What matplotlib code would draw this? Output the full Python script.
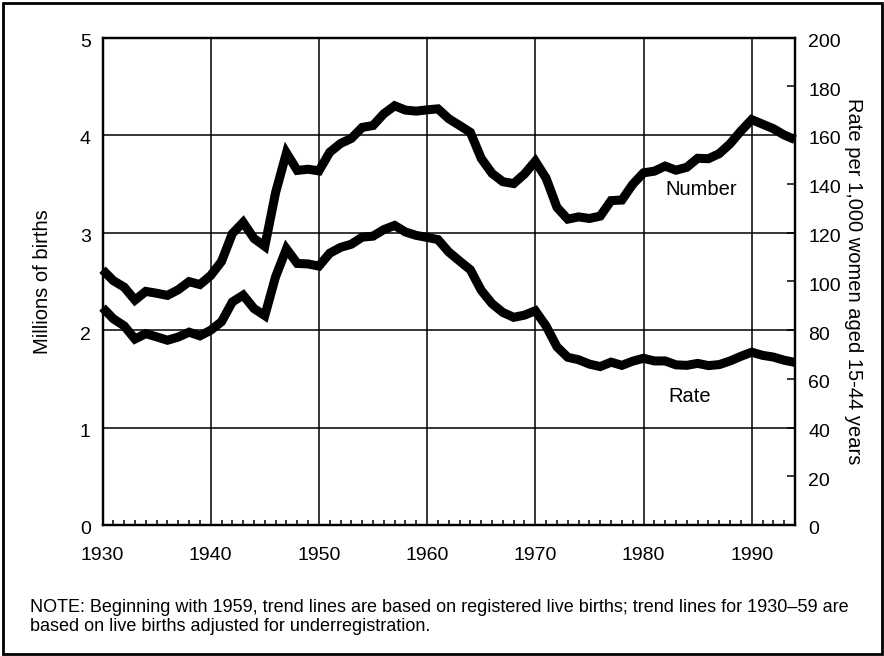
import matplotlib
matplotlib.use("Agg")
import matplotlib.pyplot as plt
from matplotlib.patches import Rectangle
from matplotlib.transforms import ScaledTranslation

years = list(range(1930, 1995))
number_millions = [2.618, 2.506, 2.440, 2.307, 2.396, 2.377, 2.355, 2.413, 2.496, 2.466,
                   2.559, 2.703, 2.989, 3.104, 2.939, 2.858, 3.411, 3.817, 3.637, 3.649,
                   3.632, 3.823, 3.913, 3.965, 4.078, 4.097, 4.218, 4.300, 4.255, 4.245,
                   4.258, 4.268, 4.167, 4.098, 4.027, 3.760, 3.606, 3.521, 3.502, 3.600,
                   3.731, 3.556, 3.258, 3.137, 3.160, 3.144, 3.168, 3.327, 3.333, 3.494,
                   3.612, 3.629, 3.681, 3.639, 3.669, 3.761, 3.757, 3.809, 3.910, 4.041,
                   4.158, 4.111, 4.065, 4.000, 3.953]
rate_per_1000 = [89.2, 84.6, 81.7, 76.3, 78.5, 77.2, 75.8, 77.1, 79.1, 77.6,
                 79.9, 83.4, 91.5, 94.3, 88.8, 85.9, 101.9, 113.3, 107.3, 107.1,
                 106.2, 111.5, 113.9, 115.2, 118.1, 118.5, 121.2, 122.9, 120.2, 118.8,
                 118.0, 117.1, 112.0, 108.3, 104.7, 96.3, 90.8, 87.2, 85.2, 86.1,
                 87.9, 81.6, 73.1, 68.8, 67.8, 66.0, 65.0, 66.8, 65.5, 67.2,
                 68.4, 67.3, 67.3, 65.7, 65.5, 66.3, 65.4, 65.8, 67.3, 69.2,
                 70.9, 69.6, 68.9, 67.6, 66.7]
x_ticks = [1930, 1940, 1950, 1960, 1970, 1980, 1990]
left_ticks = [0, 1, 2, 3, 4, 5]
right_ticks = [0, 20, 40, 60, 80, 100, 120, 140, 160, 180, 200]

plt.rcParams['font.family'] = ['Liberation Sans', 'DejaVu Sans']

W, H = 884, 656
fig = plt.figure(figsize=(W / 100, H / 100), dpi=100)
L, R, T, B = 102.5, 795, 37.5, 525
ax = fig.add_axes([L / W, 1 - B / H, (R - L) / W, (B - T) / H])
ax2 = ax.twinx()

ax.set_xlim(1930, 1994)
ax.set_ylim(0, 5)
ax2.set_ylim(0, 200)

ax.plot(years, number_millions, color='black', lw=6.5, solid_joinstyle='miter',
        solid_capstyle='butt', zorder=5, clip_on=False)
ax2.plot(years, rate_per_1000, color='black', lw=6.5, solid_joinstyle='miter',
         solid_capstyle='butt', zorder=5, clip_on=False)

# grid
for xv in x_ticks[1:]:
    ax.axvline(xv, color='black', lw=1.1, zorder=1)
for yv in left_ticks[1:-1]:
    ax.axhline(yv, color='black', lw=1.1, zorder=1)

for a in (ax, ax2):
    for s in a.spines.values():
        s.set_linewidth(1.6)
        s.set_color('black')

FS = 14
ax.set_xticks(x_ticks)
ax.set_xticklabels([str(v) for v in x_ticks], fontsize=FS)
ax.set_xticks(years, minor=True)
ax.tick_params(axis='x', which='major', direction='in', length=0, pad=15.5)
ax.tick_params(axis='x', which='minor', direction='in', length=3.6, width=1.1)

ax.set_yticks(left_ticks)
ax.set_yticklabels([str(v) for v in left_ticks], fontsize=FS)
ax.tick_params(axis='y', which='major', length=0, pad=8.5)

ax2.set_yticks(right_ticks)
ax2.set_yticklabels([str(v) for v in right_ticks], fontsize=FS)
ax2.tick_params(axis='y', which='major', direction='in', length=5.8, width=1.1, pad=9.5)

ax.set_ylabel('Millions of births', fontsize=14.5, va='center')
ax.yaxis.set_label_coords(-0.086, 0.5)
ax2.set_ylabel('Rate per 1,000 women aged 15-44 years', fontsize=14.5,
               rotation=-90, va='center')
ax2.yaxis.set_label_coords(1.084, 0.5)

ax.text(1985.3, 3.436, 'Number', fontsize=14.5, ha='center', va='center')
ax.text(1984.3, 1.316, 'Rate', fontsize=14.5, ha='center', va='center')

fig.text(30 / W, 1 - 599.5 / H,
         'NOTE: Beginning with 1959, trend lines are based on registered live births; '
         'trend lines for 1930\u201359 are\nbased on live births adjusted for underregistration.',
         fontsize=13.0, ha='left', va='top', linespacing=1.1)

fig.patches.append(Rectangle((2.5 / W, 2.5 / H), (W - 5) / W, (H - 5) / H,
                             transform=fig.transFigure, fill=False,
                             edgecolor='black', lw=2))

# nudge y tick labels slightly downward like the reference
off = ScaledTranslation(0, -3 / 100, fig.dpi_scale_trans)
for a in (ax, ax2):
    for lbl in a.get_yticklabels():
        lbl.set_transform(lbl.get_transform() + off)

fig.savefig('out.png', dpi=100)
